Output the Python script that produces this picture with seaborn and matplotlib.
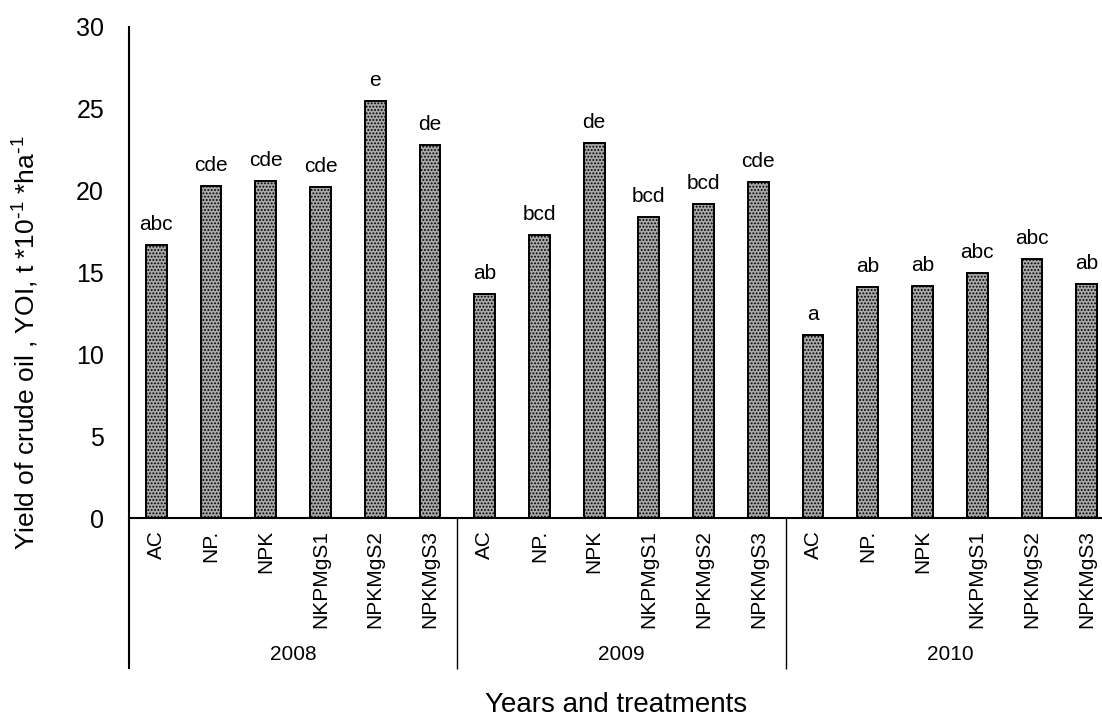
import matplotlib
matplotlib.use("Agg")
import matplotlib.pyplot as plt
import matplotlib.transforms as mtransforms
import numpy as np
import pandas as pd
import seaborn as sns

# Yield of crude oil per treatment, grouped by year
years = ["2008", "2009", "2010"]
treatments = ["AC", "NP.", "NPK", "NKPMgS1", "NPKMgS2", "NPKMgS3"]
yield_2008 = [16.7, 20.3, 20.6, 20.2, 25.5, 22.8]
yield_2009 = [13.7, 17.3, 22.9, 18.4, 19.2, 20.5]
yield_2010 = [11.2, 14.1, 14.2, 15.0, 15.8, 14.3]
letters_2008 = ["abc", "cde", "cde", "cde", "e", "de"]
letters_2009 = ["ab", "bcd", "de", "bcd", "bcd", "cde"]
letters_2010 = ["a", "ab", "ab", "abc", "abc", "ab"]
y_ticks = [0, 5, 10, 15, 20, 25, 30]

values = yield_2008 + yield_2009 + yield_2010
letters = letters_2008 + letters_2009 + letters_2010
df = pd.DataFrame({
    "year": np.repeat(years, len(treatments)),
    "treatment": treatments * len(years),
    "value": values,
    "letters": letters,
})
df["key"] = df["year"] + "|" + df["treatment"]

sns.set_style("white")
plt.rcParams["font.family"] = ["Liberation Sans", "DejaVu Sans"]
plt.rcParams["mathtext.default"] = "regular"
plt.rcParams["hatch.linewidth"] = 0.9
for k in ["text.color", "axes.labelcolor", "xtick.color", "ytick.color"]:
    plt.rcParams[k] = "black"

fig = plt.figure(figsize=(11.02, 7.18), dpi=100)
W, H = 1102, 718
x0, x1 = 129, 1114
y_top, y_base = 27, 518
ax = fig.add_axes([x0 / W, 1 - y_base / H, (x1 - x0) / W, (y_base - y_top) / H])

sns.barplot(data=df, x="key", y="value", order=list(df["key"]), ax=ax,
            color="#a9a9a9", edgecolor="black", linewidth=1.4, width=0.38,
            hatch=".....", errorbar=None, saturation=1)

n = len(df)
ax.set_xlim(-0.5, n - 0.5)
ax.set_ylim(0, 30)
ax.set_yticks(y_ticks)
ax.set_yticklabels([str(t) for t in y_ticks], fontsize=18)
ax.set_xticks(range(n))
ax.set_xticklabels(df["treatment"], rotation=90, fontsize=15)
ax.tick_params(axis="y", length=0, pad=18)
ax.tick_params(axis="x", length=0, pad=8.5)
ax.set_xlabel("")
ax.set_ylabel("")
ax.grid(False)

for s in ["top", "right"]:
    ax.spines[s].set_visible(False)
for s in ["left", "bottom"]:
    ax.spines[s].set_linewidth(1.5)
    ax.spines[s].set_color("black")

# significance letters above each bar
for i, (v, lab) in enumerate(zip(df["value"], df["letters"])):
    ax.annotate(lab, (i, v), xytext=(0, 10.8), textcoords="offset points",
                ha="center", va="baseline", fontsize=15)

# multi-level category axis: group dividers and year labels
trans = mtransforms.blended_transform_factory(ax.transData, ax.transAxes)
ax_h = y_base - y_top
low = -(669 - y_base) / ax_h
ax.plot([-0.5, -0.5], [0, low], transform=trans, color="black",
        lw=1.5, clip_on=False, solid_capstyle="butt")
g = len(treatments)
for k in range(1, len(years)):
    xs = k * g - 0.5
    ax.plot([xs, xs], [0, low], transform=trans, color="black",
            lw=1.0, clip_on=False, solid_capstyle="butt")
year_y = -(655 - y_base) / ax_h
for k, yr in enumerate(years):
    ax.text(k * g + (g - 1) / 2, year_y, yr, transform=trans,
            ha="center", va="center", fontsize=15)

fig.text(26 / W, 1 - 343 / H,
         r"Yield of crude oil , YOI, t *10$^{\text{-}1}$ *ha$^{\text{-}1}$",
         rotation=90, ha="center", va="center", fontsize=19)
fig.text(616 / W, 1 - 705 / H, "Years and treatments",
         ha="center", va="center", fontsize=20)

fig.savefig("out.png", dpi=100)
